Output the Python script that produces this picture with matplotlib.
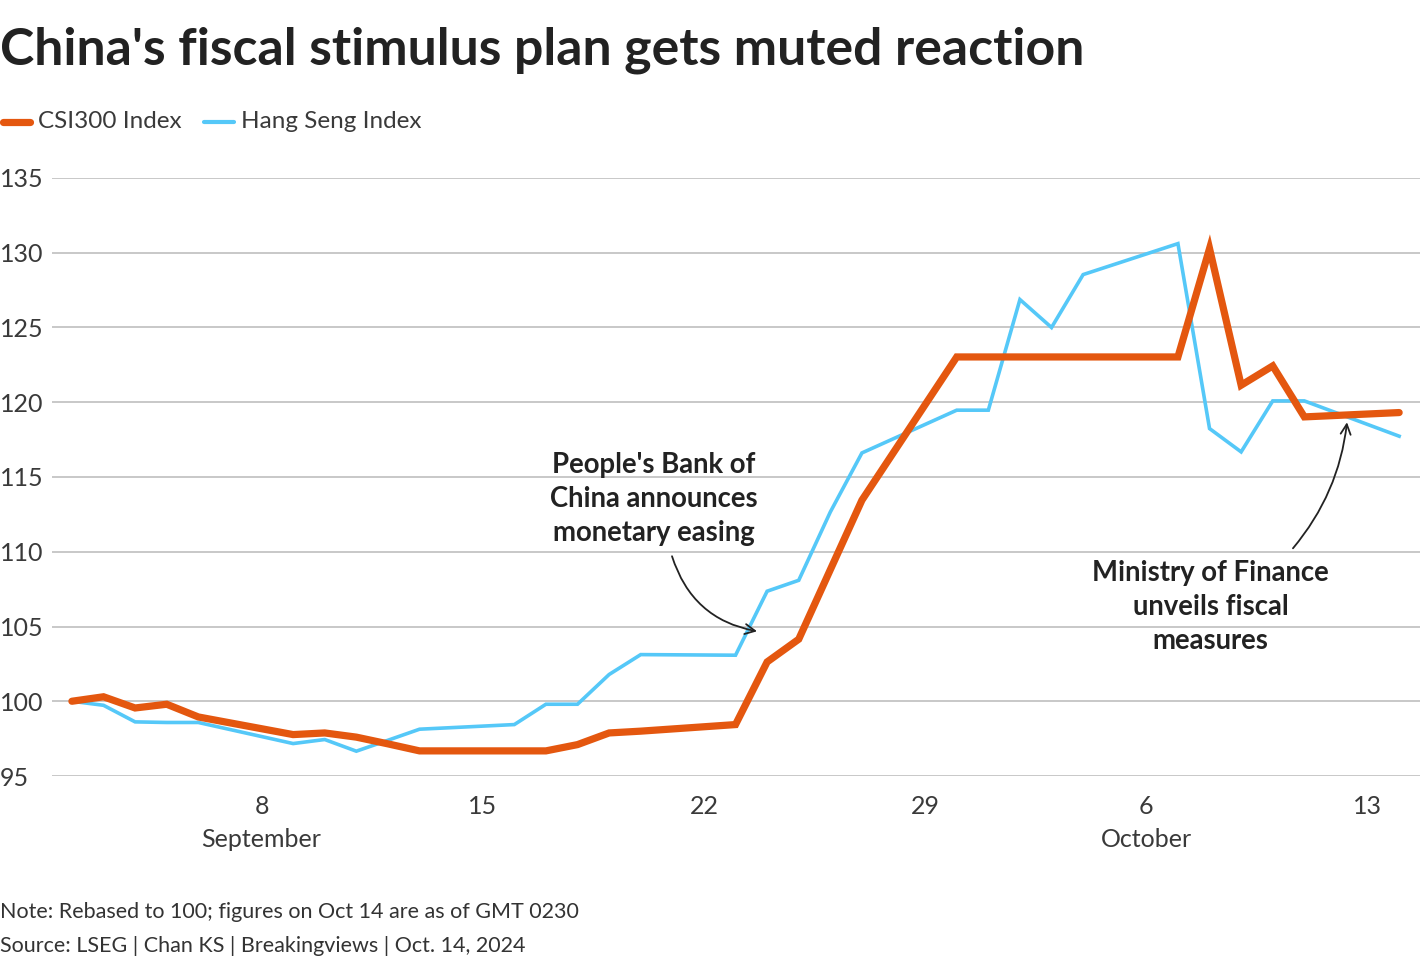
import numpy as np
import pandas as pd
import matplotlib
matplotlib.use("Agg")
import matplotlib.pyplot as plt
from matplotlib.lines import Line2D

# données (base 100 au 2 sept.)
csi_dates = ["2024-09-02", "2024-09-03", "2024-09-04", "2024-09-05", "2024-09-06",
             "2024-09-09", "2024-09-10", "2024-09-11", "2024-09-12", "2024-09-13",
             "2024-09-16", "2024-09-17", "2024-09-18", "2024-09-19", "2024-09-20",
             "2024-09-23", "2024-09-24", "2024-09-25", "2024-09-26", "2024-09-27",
             "2024-09-30", "2024-10-07", "2024-10-08", "2024-10-09", "2024-10-10",
             "2024-10-11", "2024-10-14"]
csi_values = [100.0, 100.3, 99.55, 99.8, 98.95,
              97.77, 97.88, 97.6, 97.15, 96.68,
              96.68, 96.68, 97.1, 97.88, 98.0,
              98.44, 102.63, 104.15, 108.8, 113.45,
              123.03, 123.03, 130.28, 121.14, 122.43,
              119.02, 119.31]

hsi_dates = ["2024-09-02", "2024-09-03", "2024-09-04", "2024-09-05", "2024-09-06",
             "2024-09-09", "2024-09-10", "2024-09-11", "2024-09-12", "2024-09-13",
             "2024-09-16", "2024-09-17", "2024-09-18", "2024-09-19", "2024-09-20",
             "2024-09-23", "2024-09-24", "2024-09-25", "2024-09-26", "2024-09-27",
             "2024-09-30", "2024-10-01", "2024-10-02", "2024-10-03", "2024-10-04",
             "2024-10-07", "2024-10-08", "2024-10-09", "2024-10-10", "2024-10-11",
             "2024-10-14"]
hsi_values = [100.0, 99.73, 98.62, 98.58, 98.58,
              97.17, 97.44, 96.66, 97.39, 98.13,
              98.44, 99.8, 99.8, 101.79, 103.12,
              103.08, 107.36, 108.09, 112.66, 116.61,
              119.47, 119.47, 126.87, 125.0, 128.54,
              130.61, 118.24, 116.68, 120.09, 120.09,
              117.73]

tick_dates = ["2024-09-08", "2024-09-15", "2024-09-22", "2024-09-29", "2024-10-06", "2024-10-13"]
tick_labels = ["8\nSeptember", "15", "22", "29", "6\nOctober", "13"]
y_ticks = [95, 100, 105, 110, 115, 120, 125, 130, 135]

ORANGE = "#e4570f"
BLUE = "#55c8f8"
GRID = "#c8c8c8"
TXT = "#222222"
LAB = "#3a3a3a"

plt.rcParams['font.family'] = ['Lato', 'DejaVu Sans']

csi_x = pd.to_datetime(csi_dates)
hsi_x = pd.to_datetime(hsi_dates)
t0 = pd.Timestamp("2024-09-02")

W, H = 1420, 968
fig = plt.figure(figsize=(W / 100, H / 100), dpi=100)
ax = fig.add_axes([52 / W, 1 - 776 / H, 1 - 52 / W, (776 - 178) / H])

ax.plot(hsi_x, hsi_values, color=BLUE, lw=2.6, solid_joinstyle="miter", zorder=3)
ax.plot(csi_x, csi_values, color=ORANGE, lw=5.2, solid_capstyle="round", solid_joinstyle="miter", zorder=4)

ax.set_ylim(95, 135)
ax.set_xlim(t0 - pd.Timedelta(days=0.63), t0 + pd.Timedelta(days=42.66))
ax.set_yticks(y_ticks)
ax.set_yticklabels([str(v) for v in y_ticks], ha="left")
ax.set_xticks(pd.to_datetime(tick_dates))
ax.set_xticklabels(tick_labels, linespacing=1.5)
ax.tick_params(axis="y", length=0, pad=37.4, labelsize=18, labelcolor=LAB)
ax.tick_params(axis="x", length=0, pad=14, labelsize=18, labelcolor=LAB)

ax.grid(axis="y", color=GRID, lw=1.4)
ax.grid(axis="x", visible=False)
ax.set_axisbelow(True)
for s in ax.spines.values():
    s.set_visible(False)

# annotations
def day(d):
    return t0 + pd.Timedelta(days=d)

ax.text(day(18.42), 113.5, "People's Bank of\nChina announces\nmonetary easing",
        ha="center", va="center", fontsize=19.8, fontweight="bold", color=TXT, linespacing=1.38)
ax.annotate("", xy=(day(21.68), 104.68), xytext=(day(18.99), 109.7),
            arrowprops=dict(arrowstyle="->", color=TXT, lw=1.3,
                            connectionstyle="arc3,rad=0.3", mutation_scale=18,
                            shrinkA=0, shrinkB=0))

ax.text(day(36.04), 106.29, "Ministry of Finance\nunveils fiscal\nmeasures",
        ha="center", va="center", fontsize=19.8, fontweight="bold", color=TXT, linespacing=1.38)
ax.annotate("", xy=(day(40.35), 118.66), xytext=(day(38.64), 110.23),
            arrowprops=dict(arrowstyle="->", color=TXT, lw=1.3,
                            connectionstyle="arc3,rad=0.15", mutation_scale=18,
                            shrinkA=0, shrinkB=0))

# titre, légende, notes
fig.text(0 / W, 1 - 50 / H, "China's fiscal stimulus plan gets muted reaction",
         ha="left", va="center", fontsize=37.3, fontweight="bold", color=TXT)

fig.add_artist(Line2D([3 / W, 30 / W], [1 - 122 / H] * 2, color=ORANGE, lw=5.2,
                      solid_capstyle="round"))
fig.text(38 / W, 1 - 121 / H, "CSI300 Index", ha="left", va="center",
         fontsize=17.5, color=LAB)
fig.add_artist(Line2D([204 / W, 234 / W], [1 - 122 / H] * 2, color=BLUE, lw=3,
                      solid_capstyle="round"))
fig.text(241 / W, 1 - 121 / H, "Hang Seng Index", ha="left", va="center",
         fontsize=17.5, color=LAB)

fig.text(0, 1 - 912 / H, "Note: Rebased to 100; figures on Oct 14 are as of GMT 0230",
         ha="left", va="center", fontsize=15.5, color="#333333")
fig.text(0, 1 - 946 / H, "Source: LSEG | Chan KS | Breakingviews | Oct. 14, 2024",
         ha="left", va="center", fontsize=15.5, color="#333333")

fig.savefig("out.png", dpi=100)
